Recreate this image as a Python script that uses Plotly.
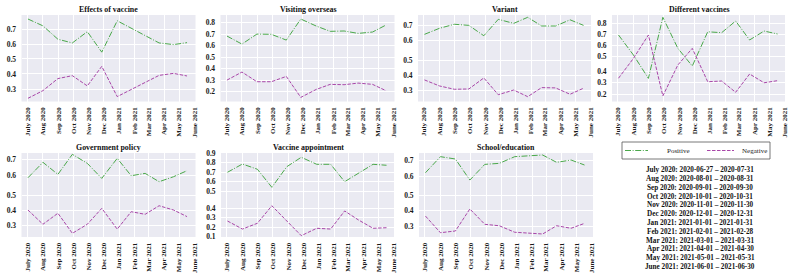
import plotly.graph_objects as go

# ---------------- data ----------------
MONTH_TICKS = ["2020-07-01", "2020-08-01", "2020-09-01", "2020-10-01", "2020-11-01", "2020-12-01",
               "2021-01-01", "2021-02-01", "2021-03-01", "2021-04-01", "2021-05-01", "2021-06-01"]
MONTH_LABELS = ["July 2020", "Aug 2020", "Sep 2020", "Oct 2020", "Nov 2020", "Dec 2020",
                "Jan 2021", "Feb 2021", "Mar 2021", "Apr 2021", "May 2021", "June 2021"]
POINT_DATES = ["2020-07-02", "2020-08-01", "2020-08-31", "2020-09-29", "2020-10-29", "2020-11-27",
               "2020-12-28", "2021-01-25", "2021-02-22", "2021-03-22", "2021-04-20", "2021-05-17"]

TOPICS = ["Effects of vaccine", "Visiting overseas", "Variant", "Different vaccines",
          "Government policy", "Vaccine appointment", "School/education"]

EFFECTS_POS = [0.769, 0.723, 0.633, 0.608, 0.684, 0.546, 0.757, None, None, 0.608, 0.597, 0.610]
EFFECTS_NEG = [0.241, 0.291, 0.370, 0.389, 0.322, 0.450, 0.252, None, None, 0.391, 0.404, 0.387]
VISITING_POS = [0.684, 0.614, 0.701, 0.699, 0.649, 0.832, 0.771, 0.725, 0.728, 0.707, 0.719, 0.780]
VISITING_NEG = [0.301, 0.371, 0.287, 0.287, 0.333, 0.151, 0.220, 0.264, 0.261, 0.275, 0.264, 0.209]
VARIANT_POS = [0.640, 0.679, 0.705, 0.698, 0.631, 0.737, 0.711, 0.750, 0.694, 0.694, 0.734, 0.698]
VARIANT_NEG = [0.370, 0.330, 0.308, 0.310, 0.383, 0.272, 0.303, 0.259, 0.319, 0.317, 0.275, 0.315]
DIFFERENT_POS = [0.693, 0.509, 0.295, 0.855, 0.571, 0.408, 0.722, 0.714, 0.821, 0.647, 0.729, 0.702]
DIFFERENT_NEG = [0.337, 0.510, 0.713, 0.183, 0.452, 0.597, 0.307, 0.313, 0.215, 0.374, 0.298, 0.316]
GOVERNMENT_POS = [0.588, 0.680, 0.608, 0.728, 0.674, 0.584, 0.704, 0.600, 0.614, 0.564, 0.594, 0.630]
GOVERNMENT_NEG = [0.402, 0.309, 0.381, 0.250, 0.309, 0.413, 0.277, 0.391, 0.374, 0.430, 0.402, 0.359]
APPOINTMENT_POS = [0.700, 0.787, 0.732, 0.542, 0.759, 0.858, 0.784, 0.784, 0.601, 0.689, 0.784, 0.774]
APPOINTMENT_NEG = [0.266, 0.181, 0.242, 0.427, 0.266, 0.111, 0.189, 0.181, 0.372, 0.276, 0.189, 0.195]
SCHOOL_POS = [0.624, 0.720, 0.706, 0.580, 0.674, 0.680, 0.720, 0.724, 0.730, 0.686, 0.700, 0.670]
SCHOOL_NEG = [0.367, 0.262, 0.273, 0.412, 0.315, 0.306, 0.265, 0.258, 0.254, 0.306, 0.290, 0.321]

POSITIVE = [EFFECTS_POS, VISITING_POS, VARIANT_POS, DIFFERENT_POS, GOVERNMENT_POS, APPOINTMENT_POS, SCHOOL_POS]
NEGATIVE = [EFFECTS_NEG, VISITING_NEG, VARIANT_NEG, DIFFERENT_NEG, GOVERNMENT_NEG, APPOINTMENT_NEG, SCHOOL_NEG]
SERIES_NAMES = ["Positive", "Negative"]

DATE_RANGES = ["July 2020: 2020-06-27 \u2013 2020-07-31", "Aug 2020: 2020-08-01 \u2013 2020-08-31",
               "Sep 2020: 2020-09-01 \u2013 2020-09-30", "Oct 2020: 2020-10-01 \u2013 2020-10-31",
               "Nov 2020: 2020-11-01 \u2013 2020-11-30", "Dec 2020: 2020-12-01 \u2013 2020-12-31",
               "Jan 2021: 2021-01-01 \u2013 2021-01-31", "Feb 2021: 2021-02-01 \u2013 2021-02-28",
               "Mar 2021: 2021-03-01 \u2013 2021-03-31", "Apr 2021: 2021-04-01 \u2013 2021-04-30",
               "May 2021: 2021-05-01 \u2013 2021-05-31", "June 2021: 2021-06-01 \u2013 2021-06-30"]

# ---------------- layout / style ----------------
W, H = 800, 275
FONT = "Liberation Serif"
TXT = "#1a1a1a"
GREEN = "#4aa84a"
PURPLE = "#a846a8"
BG = "#EAEAF2"
GREEN_DASH = "6px,1.6px,1px,1.6px"
PURPLE_DASH = "3.5px,1.5px"

# panel rectangles in pixels: (left, top, right, bottom)
PANELS = [(21.5, 15, 195.5, 101.5), (220.5, 15, 394.5, 101.5), (418, 15, 592, 101.5), (612, 15, 786, 101.5),
          (21.5, 153, 195.5, 237), (221, 153, 395, 237), (419, 153, 593, 237)]
# (positive axis range, positive ticks, negative axis range, negative ticks)
YAXES = [
    ([0.214, 0.796], [0.5, 0.6, 0.7], [0.220, 0.786], [0.3, 0.4]),
    ([0.115, 0.867], [0.5, 0.6, 0.7, 0.8], [0.115, 0.867], [0.2, 0.3, 0.4]),
    ([0.206, 0.765], [0.6, 0.7], [0.227, 0.800], [0.3, 0.4, 0.5]),
    ([0.083, 0.876], [0.5, 0.6, 0.7, 0.8], [0.135, 0.887], [0.2, 0.3, 0.4]),
    ([0.233, 0.736], [0.6, 0.7], [0.226, 0.774], [0.3, 0.4, 0.5]),
    ([0.019, 0.903], [0.5, 0.6, 0.7, 0.8, 0.9], [0.097, 0.984], [0.1, 0.2, 0.3, 0.4]),
    ([0.239, 0.742], [0.6, 0.7], [0.235, 0.765], [0.3, 0.4, 0.5]),
]
XRANGE = ["2020-06-19", "2021-06-03"]


def px_x(v):
    return v / W


def px_y(v):
    return 1 - v / H


fig = go.Figure()
layout = dict(
    width=W, height=H, margin=dict(l=0, r=0, t=0, b=0, autoexpand=False),
    paper_bgcolor="white", plot_bgcolor=BG,
    font=dict(family=FONT, color=TXT, size=7, weight="bold"),
    showlegend=False,
)
annotations = []
shapes = []

for k in range(7):
    l, t, r, b = PANELS[k]
    xa = "xaxis" if k == 0 else f"xaxis{k + 1}"
    xid = "x" if k == 0 else f"x{k + 1}"
    pid = 2 * k + 1
    nid = 2 * k + 2
    ya_pos = "yaxis" if pid == 1 else f"yaxis{pid}"
    y_pos = "y" if pid == 1 else f"y{pid}"
    ya_neg = f"yaxis{nid}"
    y_neg = f"y{nid}"
    prange, pticks, nrange, nticks = YAXES[k]
    xdom = [px_x(l), px_x(r)]
    ydom = [px_y(b), px_y(t)]

    layout[xa] = dict(domain=xdom, anchor=y_pos, type="date", range=XRANGE,
                      tickmode="array", tickvals=MONTH_TICKS, ticktext=MONTH_LABELS,
                      tickangle=-90, tickfont=dict(size=7, family=FONT, color=TXT, weight="bold"),
                      showgrid=True, gridcolor="white", gridwidth=0.8, zeroline=False,
                      showline=False, ticks="outside", ticklen=2, tickcolor="rgba(0,0,0,0)")
    common_y = dict(tickformat=".1f", tickfont=dict(size=7.5, family=FONT, color=TXT, weight="bold"),
                    showgrid=True, gridcolor="white", gridwidth=0.8, zeroline=False, showline=False,
                    ticks="outside", ticklen=3, tickcolor="rgba(0,0,0,0)", side="left")
    layout[ya_pos] = dict(domain=ydom, anchor=xid, range=prange, tickmode="array", tickvals=pticks, **common_y)
    layout[ya_neg] = dict(anchor=xid, overlaying=y_pos, range=nrange, tickmode="array", tickvals=nticks, **common_y)

    fig.add_trace(go.Scatter(x=POINT_DATES, y=POSITIVE[k], mode="lines", name=SERIES_NAMES[0],
                             line=dict(color=GREEN, width=1, dash=GREEN_DASH),
                             connectgaps=True, xaxis=xid, yaxis=y_pos))
    fig.add_trace(go.Scatter(x=POINT_DATES, y=NEGATIVE[k], mode="lines", name=SERIES_NAMES[1],
                             line=dict(color=PURPLE, width=1, dash=PURPLE_DASH),
                             connectgaps=True, xaxis=xid, yaxis=y_neg))

    annotations.append(dict(text=TOPICS[k], x=(xdom[0] + xdom[1]) / 2, y=ydom[1], xref="paper", yref="paper",
                            xanchor="center", yanchor="bottom", showarrow=False, yshift=-1,
                            font=dict(family=FONT, size=7.9, color="#111111", weight="bold")))

# legend box (drawn as chrome)
shapes.append(dict(type="rect", xref="paper", yref="paper", x0=px_x(622), x1=px_x(770), y0=px_y(159), y1=px_y(142),
                   line=dict(color="#555555", width=0.8), fillcolor="white"))
LEG_Y = 150.5
for (x0, x1, tx, color, dash, name) in [(625, 648, 665, GREEN, GREEN_DASH, SERIES_NAMES[0]),
                                          (707, 734, 740, PURPLE, PURPLE_DASH, SERIES_NAMES[1])]:
    shapes.append(dict(type="line", xref="paper", yref="paper", x0=px_x(x0), x1=px_x(x1),
                       y0=px_y(LEG_Y), y1=px_y(LEG_Y), line=dict(color=color, width=1, dash=dash)))
    annotations.append(dict(text=name, x=px_x(tx), y=px_y(LEG_Y), xref="paper", yref="paper",
                            xanchor="left", yanchor="middle", showarrow=False,
                            font=dict(family=FONT, size=7, color=TXT, weight="normal")))

for i, line in enumerate(DATE_RANGES):
    ypx = 170.3 + i * 8.78
    annotations.append(dict(text=line, x=px_x(700), y=px_y(ypx), xref="paper", yref="paper",
                            xanchor="center", yanchor="middle", showarrow=False,
                            font=dict(family=FONT, size=7.2, color="#111111", weight="bold")))

layout["annotations"] = annotations
layout["shapes"] = shapes
fig.update_layout(**layout)
fig.write_html("out.html")
